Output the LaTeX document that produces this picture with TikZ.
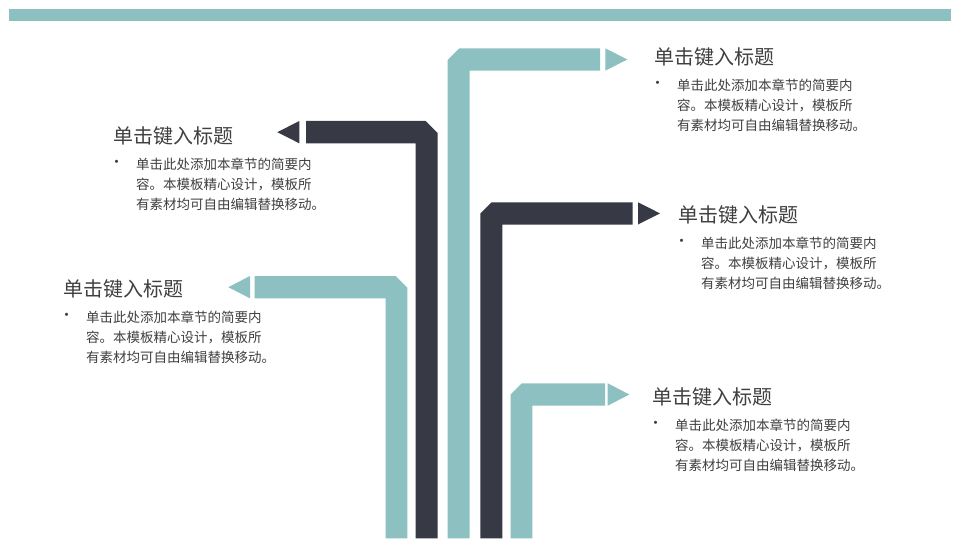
\documentclass[tikz,border=0pt]{standalone}
\usepackage{fontspec}
\newfontfamily\cjkf{Noto Sans CJK SC}
\definecolor{teal1}{HTML}{8DC1C1}
\definecolor{dark1}{HTML}{373A45}
\definecolor{txt1}{HTML}{404040}
\tikzset{
  ttl/.style={inner sep=0pt, anchor=base west, text=txt1, font=\cjkf\fontsize{20}{22}\selectfont},
  bod/.style={inner sep=0pt, anchor=base west, text=txt1, font=\cjkf\fontsize{13.5}{15}\selectfont},
  bul/.style={inner sep=0pt, anchor=center, text=txt1, font=\cjkf\fontsize{15}{16}\selectfont},
  tealfill/.style={fill=teal1, draw=none},
  darkfill/.style={fill=dark1, draw=none}
}
\newcommand\blk[3]{%
  \node[ttl] (#1t) at (#2, #3+7.6) {单击键入标题};
  \node[bul] (#1b) at (#2+3.5, #3+28) {•};
  \node[bod] (#1a) at (#2+23, #3+28+5.1) {单击此处添加本章节的简要内};
  \node[bod] (#1c) at (#2+23, #3+48+5.1) {容。本模板精心设计，模板所};
  \node[bod] (#1d) at (#2+23, #3+68+5.1) {有素材均可自由编辑替换移动。};
}
\begin{document}
\begin{tikzpicture}[x=1pt,y=-1pt]
\useasboundingbox (0,0) rectangle (960,548);
\fill[white] (0,0) rectangle (960,548);
% top bar
\fill[teal1] (9,9) rectangle (951,21);
% dark, top-left
\fill[darkfill] (306,121) -- (425.7,121) -- (437.5,132.8) -- (437.5,538.3) -- (415.5,538.3) -- (415.5,143.3) -- (306,143.3) -- cycle;
\fill[darkfill] (277.3,132.2) -- (299.3,121) -- (299.3,143.3) -- cycle;
% teal, top-right
\fill[tealfill] (447.7,538.3) -- (447.7,59.8) -- (459.2,48.3) -- (600,48.3) -- (600,70.7) -- (469.7,70.7) -- (469.7,538.3) -- cycle;
\fill[tealfill] (605.3,48.3) -- (627.3,59.5) -- (605.3,70.7) -- cycle;
% dark, middle-right
\fill[darkfill] (480.3,538.3) -- (480.3,213.5) -- (491.5,202.3) -- (632.7,202.3) -- (632.7,224.5) -- (502.3,224.5) -- (502.3,538.3) -- cycle;
\fill[darkfill] (638,202.3) -- (660,213.4) -- (638,224.5) -- cycle;
% teal, left-bottom
\fill[tealfill] (254.7,276) -- (395.7,276) -- (407.3,287.7) -- (407.3,538.3) -- (385.5,538.3) -- (385.5,298.3) -- (254.7,298.3) -- cycle;
\fill[tealfill] (228.3,287.2) -- (250,276) -- (250,298.3) -- cycle;
% teal, bottom-right
\fill[tealfill] (510.5,538.3) -- (510.5,394.5) -- (521.7,383.3) -- (605,383.3) -- (605,405.7) -- (532.3,405.7) -- (532.3,538.3) -- cycle;
\fill[tealfill] (607.7,383.3) -- (629.3,394.5) -- (607.7,405.7) -- cycle;
% texts
\blk{A}{113}{136}
\blk{B}{654}{57}
\blk{C}{678}{215}
\blk{D}{63}{289}
\blk{E}{652}{397}
\end{tikzpicture}
\end{document}
